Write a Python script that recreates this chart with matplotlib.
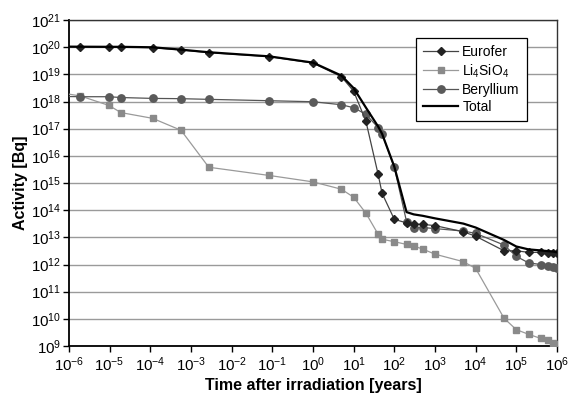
import matplotlib
matplotlib.use('Agg')
import matplotlib.pyplot as plt
from matplotlib.ticker import FixedLocator, NullLocator, LogFormatterSciNotation

#region Data

# time after irradiation [years] (first point lies left of the axis and is clipped)
time_years=[5e-7, 1.9e-6, 9.5e-6, 1.9e-5, 1.14e-4, 5.7e-4, 2.74e-3, 0.083, 1, 5, 10, 20, 40, 50,
            100, 200, 300, 500, 1000, 5000, 1e4, 5e4, 1e5, 2e5, 4e5, 6e5, 8e5, 1e6]

eurofer=[1.05e20, 1.02e20, 1.02e20, 1.01e20, 9.6e19, 7.9e19, 6.3e19, 4.5e19, 2.6e19, 8.2e18, 2.4e18, 1.9e17, 2.1e15, 4.2e14,
         4.6e13, 3.4e13, 3.0e13, 3.0e13, 2.7e13, 1.6e13, 1.1e13, 3.2e12, 3.2e12, 2.8e12, 2.8e12, 2.7e12, 2.7e12, 2.6e12]

li4sio4=[2.2e18, 1.6e18, 7.2e17, 3.9e17, 2.4e17, 8.7e16, 3.8e15, 1.9e15, 1.1e15, 5.9e14, 3.0e14, 7.8e13, 1.3e13, 8.5e12,
         6.9e12, 5.5e12, 4.8e12, 3.7e12, 2.4e12, 1.27e12, 7.2e11, 1.05e10, 4.0e9, 2.7e9, 1.9e9, 1.6e9, 1.3e9, 1.15e9]

beryllium=[1.55e18, 1.5e18, 1.5e18, 1.4e18, 1.3e18, 1.27e18, 1.2e18, 1.07e18, 9.8e17, 7.6e17, 5.9e17, 3.4e17, 1.1e17, 6.5e16,
           3.8e15, 3.8e13, 2.3e13, 2.3e13, 2.1e13, 1.7e13, 1.4e13, 5.2e12, 2.0e12, 1.15e12, 1.0e12, 9.0e11, 8.3e11, 7.3e11]

total=[1.05e20, 1.04e20, 1.03e20, 1.03e20, 9.9e19, 8.1e19, 6.5e19, 4.6e19, 2.7e19, 9.0e18, 3.1e18, 6.0e17, 1.2e17, 6.5e16,
       4.0e15, 8.5e13, 7.0e13, 6.2e13, 5.0e13, 3.2e13, 2.3e13, 8.0e12, 4.6e12, 3.6e12, 3.3e12, 3.1e12, 3.0e12, 2.8e12]

series_name=['Eurofer', 'Li$_4$SiO$_4$', 'Beryllium', 'Total']

x_ticks=[10.0**e for e in range(-6, 7)]
y_ticks=[10.0**e for e in range(9, 22)]

#endregion

#region Plot

plt.rcParams['font.family']=['Liberation Sans', 'DejaVu Sans']
plt.rcParams['mathtext.default']='regular'

fig=plt.figure(figsize=(5.73, 4.0), dpi=100)
ax=fig.add_axes([0.1204, 0.135, 0.8516, 0.815])

ax.plot(time_years, eurofer, '-', color='#444444', lw=0.9, marker='D', ms=4.2,
        mfc='#222222', mec='#222222', label=series_name[0], zorder=4)
ax.plot(time_years, li4sio4, '-', color='#9a9a9a', lw=0.9, marker='s', ms=4.6,
        mfc='#8a8a8a', mec='#8a8a8a', label=series_name[1], zorder=3)
ax.plot(time_years, beryllium, '-', color='#555555', lw=0.9, marker='o', ms=5.3,
        mfc='#5a5a5a', mec='#5a5a5a', label=series_name[2], zorder=3)
ax.plot(time_years, total, '-', color='black', lw=1.6, label=series_name[3], zorder=5)

ax.set_xscale('log')
ax.set_yscale('log')
ax.set_xlim(1e-6, 1e6)
ax.set_ylim(1e9, 1e21)

ax.xaxis.set_major_locator(FixedLocator(x_ticks))
ax.yaxis.set_major_locator(FixedLocator(y_ticks))
ax.xaxis.set_major_formatter(LogFormatterSciNotation())
ax.yaxis.set_major_formatter(LogFormatterSciNotation())
ax.xaxis.set_minor_locator(NullLocator())
ax.yaxis.set_minor_locator(NullLocator())

ax.grid(True, axis='y', color='#9a9a9a', lw=1.0)
ax.set_axisbelow(True)
ax.tick_params(axis='both', direction='out', length=4.5, width=1, labelsize=10.8, colors='black')
ax.tick_params(axis='y', pad=1)
ax.tick_params(axis='x', pad=2)

for side in ['left', 'bottom']:
    ax.spines[side].set_linewidth(1.3)
for side in ['top', 'right']:
    ax.spines[side].set_linewidth(1.0)
    ax.spines[side].set_color('#333333')

ax.set_xlabel('Time after irradiation [years]', fontsize=11.5, fontweight='bold', labelpad=3)
ax.set_ylabel('Activity [Bq]', fontsize=11.5, fontweight='bold', labelpad=2)

leg=ax.legend(loc='upper right', bbox_to_anchor=(0.938, 0.944), fontsize=10, fancybox=False,
              edgecolor='black', framealpha=1, borderpad=0.5, labelspacing=0.22,
              handlelength=2.5, handletextpad=0.3, borderaxespad=0)
leg.get_frame().set_linewidth(0.9)

fig.savefig('out.png', dpi=100)

#endregion
